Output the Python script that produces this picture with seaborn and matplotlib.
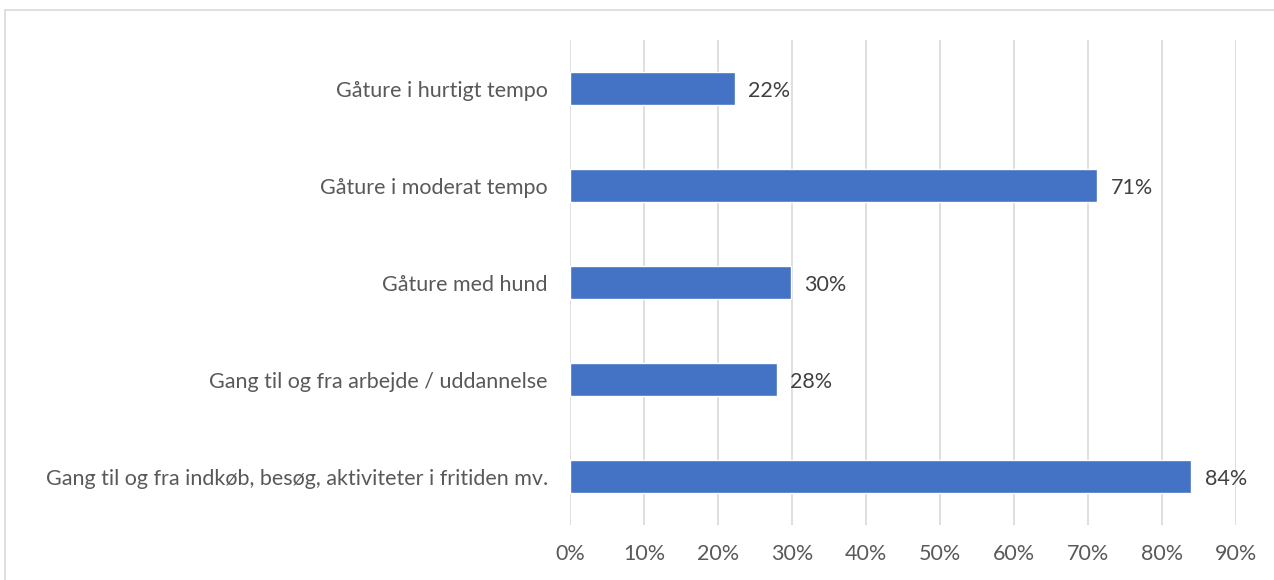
import matplotlib
matplotlib.use('Agg')
import matplotlib.pyplot as plt
import seaborn as sns
import pandas as pd
from matplotlib.patches import Rectangle
from matplotlib.ticker import PercentFormatter

# Data (share of respondents, %)
categories = [
    "Gåture i hurtigt tempo",
    "Gåture i moderat tempo",
    "Gåture med hund",
    "Gang til og fra arbejde / uddannelse",
    "Gang til og fra indkøb, besøg, aktiviteter i fritiden mv.",
]
values = [22.3, 71.3, 29.9, 28.0, 84.0]
xticks = [0, 10, 20, 30, 40, 50, 60, 70, 80, 90]

df = pd.DataFrame({"category": categories, "value": values})

sns.set_theme(style="white")
plt.rcParams['font.family'] = ['Lato', 'DejaVu Sans']

fig = plt.figure(figsize=(12.74, 5.8), dpi=100)
ax = fig.add_axes([0.4474, 0.0948, 0.5226, 0.8362])

sns.barplot(data=df, x="value", y="category", color="#4472C4", width=0.35,
            saturation=1, ax=ax, zorder=3)

ax.set_xlim(0, 90)
ax.set_xticks(xticks)
ax.xaxis.set_major_formatter(PercentFormatter(decimals=0))
ax.grid(axis="x", color="#D9D9D9", linewidth=1.2, zorder=0)
ax.set_axisbelow(True)
for s in ax.spines.values():
    s.set_visible(False)
ax.tick_params(axis="both", length=0, labelsize=15.5, colors="#595959")
ax.tick_params(axis="x", pad=14)
ax.tick_params(axis="y", pad=16)
ax.set_xlabel("")
ax.set_ylabel("")

for i, v in enumerate(values):
    ax.text(v + 1.8, i + 0.03, f"{round(v)}%", va="center", ha="left",
            fontsize=15.5, color="#404040")

# outer chart border
fig.patches.append(Rectangle((5 / 1274, -0.1), 1.0, 1.1 - 10 / 580, transform=fig.transFigure,
                             fill=False, edgecolor="#D9D9D9", linewidth=1.2))

fig.savefig("out.png", dpi=100)
plt.close(fig)
